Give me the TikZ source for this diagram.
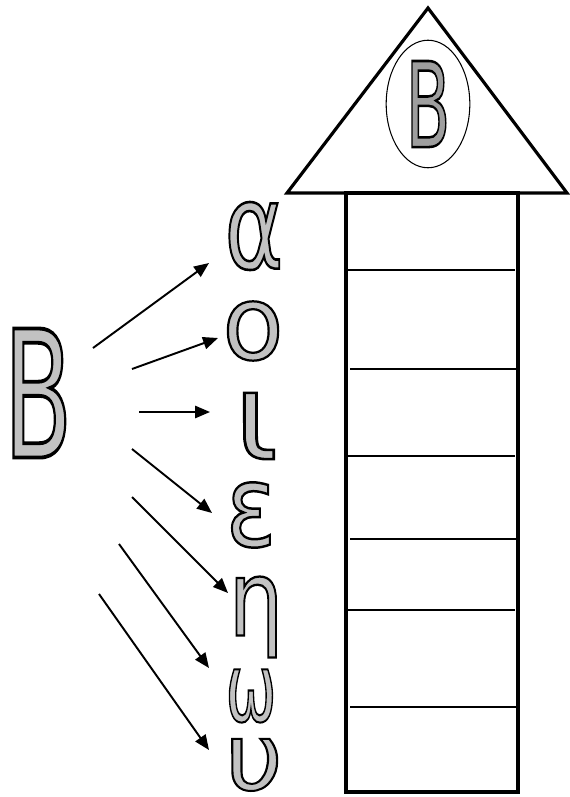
\documentclass[tikz,border=0pt]{standalone}
\usepackage{fontspec}
\usepackage{xcolor}
\usepackage{tikz}
\usetikzlibrary{shapes,arrows.meta,positioning,calc}

\newfontfamily\greekfont{DejaVu Sans}
\definecolor{lettergray}{gray}{0.76}
\definecolor{capgray}{gray}{0.62}
% outlined letter: gray fill, black stroke
\newcommand\outl[1]{\special{pdf:literal direct 2 Tr 0 G 1.3 w}#1\special{pdf:literal direct 0 Tr}}

\tikzset{
  letter/.style={font=\fontsize{60}{60}\selectfont\greekfont, text=lettergray, inner sep=0pt},
  pointer/.style={-{Triangle[length=8.5pt,width=7pt]}, line width=1.1pt},
  rung/.style={line width=1.1pt},
}

\begin{document}
\begin{tikzpicture}[x=0.02cm,y=-0.02cm]
\useasboundingbox (0,0) rectangle (570,797);

% roof with the capital letter
\draw[line width=1.8pt, line join=miter] (287,193) -- (428,8) -- (567,193) -- cycle;
\node[draw, ellipse, line width=0.6pt, inner sep=0pt, minimum width=47.6pt, minimum height=72.6pt] (oval) at (428,104) {};
\node[letter, text=capgray, xscale=0.62, yscale=1.12] (top) at (oval.center) {\outl{Β}};

% ladder
\draw[line width=2pt] (346,193) rectangle (518,792);
\draw[rung] (348,270) -- (515,270);
\draw[rung] (350,369) -- (518,369);
\draw[rung] (346,456) -- (515,456);
\draw[rung] (350,539) -- (518,539);
\draw[rung] (346,610) -- (515,610);
\draw[rung] (350,707) -- (518,707);

% big letter on the left
\node[letter, xscale=0.95, yscale=1.68] (beta) at (38,393) {\outl{Β}};

% small letters
\node[letter, xscale=0.85, yscale=1.13] (alpha) at (254,236) {\outl{α}};
\node[letter, xscale=0.95, yscale=0.98] (omicron) at (253,331) {\outl{ο}};
\node[letter, xscale=1.25, yscale=1.15] (iota) at (256,426) {\outl{ι}};
\node[letter, xscale=0.88, yscale=1.08] (epsilon) at (251,515) {\outl{ε}};
\node[letter, xscale=0.82, yscale=1.0] (eta) at (256,617) {\outl{η}};
\node[letter, xscale=0.58, yscale=0.9] (omega) at (251,696) {\outl{ω}};
\node[letter, xscale=0.95, yscale=0.88] (upsilon) at (254,765) {\outl{υ}};

% arrow tails and tips
\coordinate (s1) at (93,348);  \coordinate (t1) at (209,263);
\coordinate (s2) at (132,369); \coordinate (t2) at (218,338);
\coordinate (s3) at (139,412); \coordinate (t3) at (210,412);
\coordinate (s4) at (132,449); \coordinate (t4) at (212,513);
\coordinate (s5) at (132,497); \coordinate (t5) at (228,593);
\coordinate (s6) at (119,544); \coordinate (t6) at (209,668);
\coordinate (s7) at (99,594);  \coordinate (t7) at (209,750);
\foreach \i in {1,...,7}
  \draw[pointer] (s\i) -- (t\i);
\end{tikzpicture}
\end{document}
